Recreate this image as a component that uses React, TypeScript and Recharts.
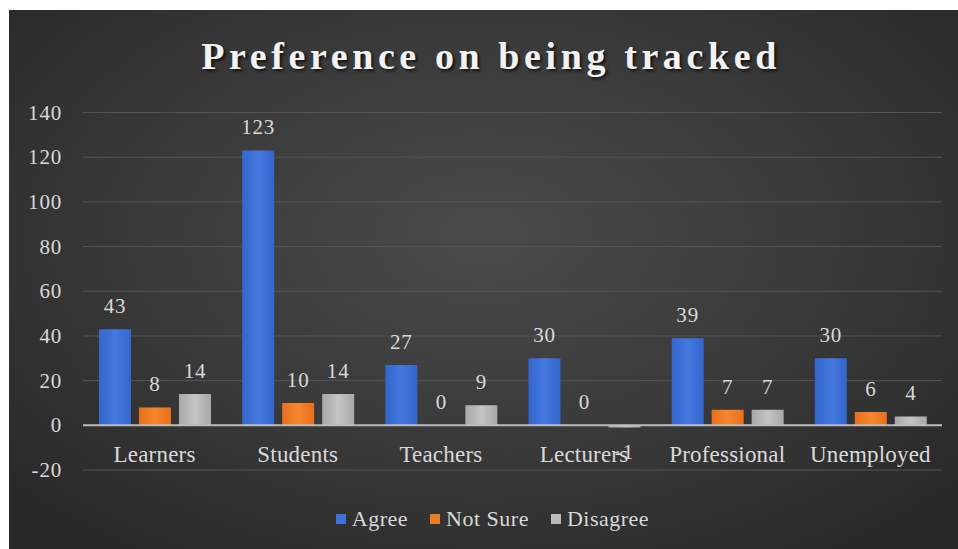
import React from 'react';
import { BarChart, Bar, XAxis, YAxis, CartesianGrid, ReferenceLine, LabelList, Legend } from 'recharts';

const categories = ['Learners', 'Students', 'Teachers', 'Lecturers', 'Professional', 'Unemployed'];
const agree = [43, 123, 27, 30, 39, 30];
const notSure = [8, 10, 0, 0, 7, 6];
const disagree = [14, 14, 9, -1, 7, 4];
const yTicks = [-20, 0, 20, 40, 60, 80, 100, 120, 140];

const seriesInfo = [
  { key: 'agree', name: 'Agree', color: '#3f72d8', grad: 'gBlue' },
  { key: 'notSure', name: 'Not Sure', color: '#f07b26', grad: 'gOrange' },
  { key: 'disagree', name: 'Disagree', color: '#b9b9b9', grad: 'gGray' },
];

const data = categories.map((c, i) => ({
  name: c,
  agree: agree[i],
  notSure: notSure[i],
  disagree: disagree[i],
}));

const FONT = '"Liberation Serif", "Times New Roman", Times, serif';
const TEXT = '#d9d9d9';

const CatTick = (props: any) => {
  const { x, y, payload } = props;
  return (
    <text x={x} y={y - 8} textAnchor="middle" fill={TEXT} style={{ fontFamily: FONT, fontSize: 23, letterSpacing: 0.2 }}>
      {payload.value}
    </text>
  );
};

const ValTick = (props: any) => {
  const { x, y, payload } = props;
  return (
    <text x={x} y={y + 7} textAnchor="end" fill={TEXT} style={{ fontFamily: FONT, fontSize: 21, letterSpacing: 0.8 }}>
      {payload.value}
    </text>
  );
};

const BarLabel = (props: any) => {
  const { x, y, width, height, value } = props;
  const cx = x + width / 2;
  const neg = height < 0;
  const ty = neg ? y + 16 + 15 : y - 16;
  return (
    <text x={cx} y={ty} textAnchor="middle" fill={TEXT} style={{ fontFamily: FONT, fontSize: 21, letterSpacing: 0.8 }}>
      {value}
    </text>
  );
};

const LegendContent = () => (
  <div style={{ display: 'flex', justifyContent: 'center', alignItems: 'center', paddingLeft: 18, fontFamily: FONT, fontSize: 22, color: TEXT, letterSpacing: 0.5 }}>
    {seriesInfo.map((s, i) => (
      <div key={s.key} style={{ display: 'flex', alignItems: 'center', marginRight: i < seriesInfo.length - 1 ? 22 : 0 }}>
        <span style={{ display: 'inline-block', width: 10, height: 10, background: s.color, marginRight: 6 }} />
        <span style={{ fontFamily: FONT }}>{s.name}</span>
      </div>
    ))}
  </div>
);

export default function App() {
  return (
    <div style={{ position: 'fixed', left: 0, top: 0, width: 958, height: 549, background: '#ffffff' }}>
      <div
        style={{
          position: 'absolute',
          left: 9,
          top: 10,
          width: 949,
          height: 539,
          background: 'radial-gradient(ellipse 70% 75% at 50% 42%, #4a4a4a 0%, #3a3a3a 50%, #272727 100%)',
          overflow: 'hidden',
        }}
      >
        <div
          style={{
            position: 'absolute',
            left: 0,
            top: 27,
            width: 949,
            paddingLeft: 15,
            boxSizing: 'border-box',
            textAlign: 'center',
            fontFamily: FONT,
            fontWeight: 'bold',
            fontSize: 38,
            lineHeight: 1,
            letterSpacing: 4.6,
            color: '#f2f2f2',
            textShadow: '2px 2px 3px rgba(0,0,0,0.7)',
            zIndex: 2,
          }}
        >
          Preference on being tracked
        </div>
        <BarChart
          width={949}
          height={539}
          data={data}
          margin={{ top: 102.5, right: 16, bottom: 49, left: 0 }}
          barSize={32}
          barGap={8}
        >
          <defs>
            <linearGradient id="gBlue" x1="0" y1="0" x2="1" y2="0">
              <stop offset="0%" stopColor="#3466cc" />
              <stop offset="50%" stopColor="#4479e0" />
              <stop offset="100%" stopColor="#3466cc" />
            </linearGradient>
            <linearGradient id="gOrange" x1="0" y1="0" x2="1" y2="0">
              <stop offset="0%" stopColor="#e86f1c" />
              <stop offset="50%" stopColor="#f7862f" />
              <stop offset="100%" stopColor="#e86f1c" />
            </linearGradient>
            <linearGradient id="gGray" x1="0" y1="0" x2="1" y2="0">
              <stop offset="0%" stopColor="#a8a8a8" />
              <stop offset="50%" stopColor="#c4c4c4" />
              <stop offset="100%" stopColor="#a8a8a8" />
            </linearGradient>
          </defs>
          <CartesianGrid vertical={false} stroke="#555555" strokeWidth={1} />
          <XAxis
            dataKey="name"
            height={30}
            axisLine={false}
            tickLine={false}
            tickSize={0}
            tickMargin={0}
            tick={<CatTick />}
            interval={0}
          />
          <YAxis
            width={74}
            domain={[-20, 140]}
            ticks={yTicks}
            axisLine={false}
            tickLine={false}
            tickSize={0}
            tickMargin={21}
            tick={<ValTick />}
            interval={0}
          />
          <Legend
            verticalAlign="middle"
            layout="horizontal"
            align="center"
            content={<LegendContent />}
            wrapperStyle={{ top: 496, left: 0, width: 949, height: 30 }}
          />
          {seriesInfo.map((s) => (
            <Bar key={s.key} dataKey={s.key} name={s.name} fill={`url(#${s.grad})`} minPointSize={0.01} isAnimationActive={false}>
              <LabelList dataKey={s.key} content={<BarLabel />} />
            </Bar>
          ))}
          <ReferenceLine y={0} stroke="#bdbdbd" strokeWidth={2} />
        </BarChart>
      </div>
    </div>
  );
}
